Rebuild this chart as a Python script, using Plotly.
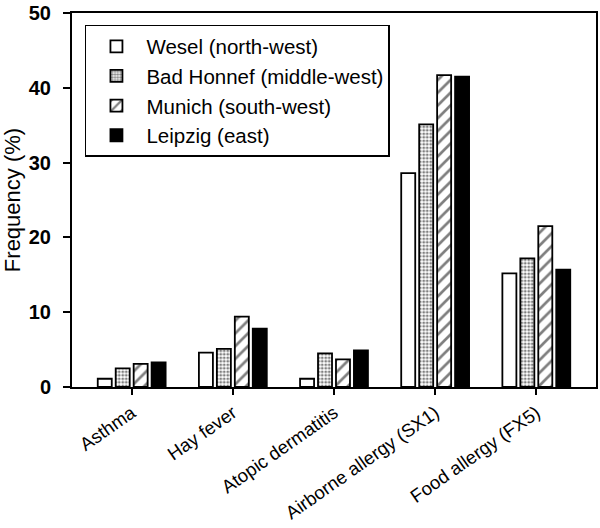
import plotly.graph_objects as go

categories = ["Asthma", "Hay fever", "Atopic dermatitis", "Airborne allergy (SX1)", "Food allergy (FX5)"]
series_names = ["Wesel (north-west)", "Bad Honnef (middle-west)", "Munich (south-west)", "Leipzig (east)"]
wesel = [1.1, 4.6, 1.1, 28.6, 15.2]
bad_honnef = [2.5, 5.1, 4.5, 35.1, 17.2]
munich = [3.1, 9.4, 3.7, 41.7, 21.5]
leipzig = [3.3, 7.8, 4.9, 41.5, 15.7]
y_ticks = [0, 10, 20, 30, 40, 50]

FONT = "Liberation Sans, Arial, sans-serif"

styles = [
    dict(color="white"),
    dict(color="white", pattern=dict(shape=".", fgcolor="black", bgcolor="white", size=3.5, solidity=0.5, fillmode="overlay")),
    dict(color="white", pattern=dict(shape="/", fgcolor="black", bgcolor="white", size=9, solidity=0.3, fillmode="overlay")),
    dict(color="black"),
]

fig = go.Figure()
for name, vals, st in zip(series_names, [wesel, bad_honnef, munich, leipzig], styles):
    fig.add_trace(go.Bar(
        x=categories, y=vals, name=name,
        marker=dict(line=dict(color="black", width=1.8), **st),
    ))

fig.update_layout(
    width=600, height=528,
    margin=dict(l=72, r=2, t=7, b=141),
    paper_bgcolor="white", plot_bgcolor="white",
    barmode="group", bargap=0.29, bargroupgap=0.22,
    font=dict(family=FONT, color="black"),
    legend=dict(
        x=0.0247, y=0.968, xanchor="left", yanchor="top",
        bordercolor="black", borderwidth=1.5, bgcolor="white",
        font=dict(size=20.5, family=FONT, color="black"),
        itemwidth=50, tracegroupgap=0,
    ),
    showlegend=True,
)
fig.update_xaxes(
    range=[-0.59, 4.59], showline=True, linecolor="black", linewidth=2, mirror=True,
    ticks="outside", ticklen=6, tickwidth=2, tickcolor="black",
    tickangle=-35, tickfont=dict(size=18.5, family=FONT, color="black"),
    ticklabeloverflow="allow",
    showgrid=False, zeroline=False,
)
fig.update_yaxes(
    range=[0, 50], tickvals=y_ticks, showline=True, linecolor="black", linewidth=2, mirror=True,
    ticks="outside", ticklen=7, tickwidth=2, tickcolor="black",
    tickfont=dict(size=20, family=FONT, color="black", weight="bold"),
    ticklabelstandoff=8, ticklabeloverflow="allow",
    title=dict(text="Frequency (%)", font=dict(size=22, family=FONT, color="black"), standoff=6),
    showgrid=False, zeroline=False,
)

fig.write_html("out.html", config={"displayModeBar": False},
               post_script="document.body.style.margin='0';")
